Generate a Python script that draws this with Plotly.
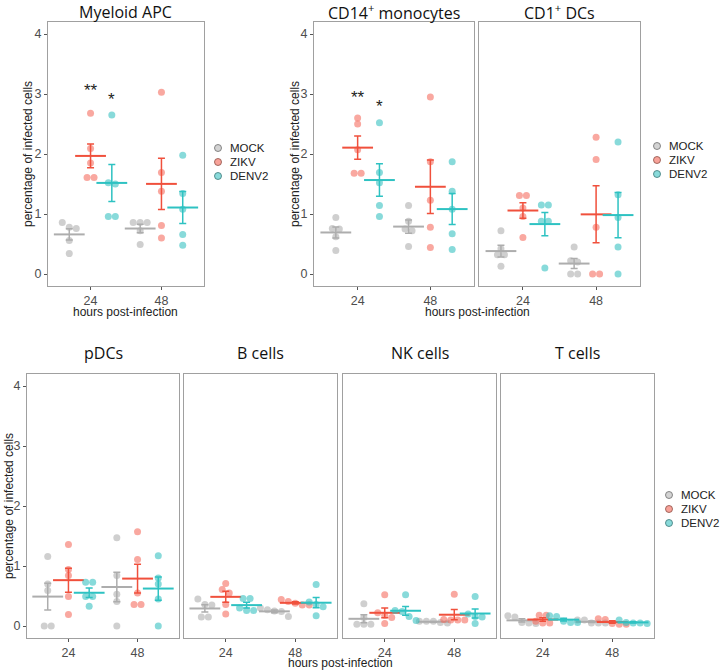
import numpy as np
import plotly.graph_objects as go

W, H = 720, 670

# ---------------- data ----------------
groups = ["MOCK", "ZIKV", "DENV2"]
time_labels = ["24", "48"]
panel_titles = ["Myeloid APC", "CD14<sup>+</sup> monocytes", "CD1<sup>+</sup> DCs",
                "pDCs", "B cells", "NK cells", "T cells"]

# each list: [values at 24 h, values at 48 h]
myeloid_mock = [[0.86, 0.78, 0.76, 0.56, 0.34], [0.86, 0.86, 0.86, 0.72, 0.49]]
myeloid_zikv = [[2.68, 2.09, 1.85, 1.61, 1.61], [3.03, 1.69, 1.38, 0.81, 0.60]]
myeloid_denv2 = [[2.65, 1.52, 1.50, 0.96, 0.96], [1.98, 1.34, 1.08, 0.66, 0.48]]

cd14_mock = [[0.94, 0.76, 0.75, 0.62, 0.39], [1.14, 0.88, 0.75, 0.72, 0.46]]
cd14_zikv = [[2.60, 2.50, 2.07, 1.68, 1.68], [2.95, 1.87, 1.23, 0.78, 0.44]]
cd14_denv2 = [[2.52, 1.69, 1.52, 1.14, 0.96], [1.87, 1.38, 1.08, 0.67, 0.41]]

cd1_mock = [[0.72, 0.42, 0.32, 0.32, 0.13], [0.45, 0.22, 0.20, 0.00, 0.00]]
cd1_zikv = [[1.31, 1.31, 1.10, 0.96, 0.61], [2.28, 1.91, 0.78, 0.00, 0.00]]
cd1_denv2 = [[1.15, 1.15, 0.88, 0.88, 0.10], [2.20, 1.32, 0.94, 0.45, 0.00]]

pdc_mock = [[1.16, 0.70, 0.59, 0.00, 0.00], [1.47, 0.84, 0.53, 0.41, 0.00]]
pdc_zikv = [[1.36, 0.94, 0.84, 0.49, 0.19], [1.57, 1.11, 0.55, 0.36, 0.36]]
pdc_denv2 = [[0.73, 0.73, 0.49, 0.49, 0.33], [1.17, 0.80, 0.70, 0.45, 0.00]]

b_mock = [[0.45, 0.36, 0.35, 0.15, 0.15], [0.30, 0.27, 0.25, 0.24, 0.16]]
b_zikv = [[0.71, 0.61, 0.55, 0.36, 0.20], [0.44, 0.41, 0.38, 0.35, 0.35]]
b_denv2 = [[0.46, 0.46, 0.30, 0.26, 0.26], [0.69, 0.40, 0.36, 0.32, 0.17]]

nk_mock = [[0.37, 0.14, 0.03, 0.03, 0.03], [0.08, 0.08, 0.08, 0.06, 0.05]]
nk_zikv = [[0.52, 0.22, 0.18, 0.14, 0.04], [0.53, 0.11, 0.10, 0.10, 0.10]]
nk_denv2 = [[0.52, 0.26, 0.24, 0.16, 0.09], [0.49, 0.20, 0.16, 0.15, 0.04]]

t_mock = [[0.17, 0.15, 0.06, 0.05, 0.04], [0.10, 0.10, 0.05, 0.05, 0.05]]
t_zikv = [[0.18, 0.18, 0.08, 0.05, 0.05], [0.12, 0.11, 0.04, 0.03, 0.03]]
t_denv2 = [[0.17, 0.16, 0.08, 0.06, 0.06], [0.10, 0.06, 0.05, 0.05, 0.04]]

star_labels = ["**", "*"]
myeloid_star_y = [3.13, 2.98]
cd14_star_y = [3.01, 2.86]

# ---------------- styling ----------------
FONT = "Liberation Sans, Arial, sans-serif"
TFONT = "Open Sans, Noto Sans, sans-serif"
point_colors = ["rgba(175,175,175,0.6)", "rgba(244,105,92,0.58)", "rgba(50,192,192,0.58)"]
line_colors = ["#ADADAD", "#F0503C", "#2EC2C2"]
legend_fill = ["rgba(175,175,175,0.55)", "rgba(242,85,70,0.55)", "rgba(40,188,188,0.55)"]
legend_edge = ["rgba(110,110,110,0.8)", "rgba(140,80,70,0.8)", "rgba(60,120,120,0.8)"]
dodge = [-0.3, 0.0, 0.3]
XR = [0.4, 2.6]
YR = [-0.2, 4.2]
DOT = 7

# panel boxes in page pixels: (x0, x1, y0, y1), show y tick labels
panels = [
    ([myeloid_mock, myeloid_zikv, myeloid_denv2], (48, 204, 22, 286), True),
    ([cd14_mock, cd14_zikv, cd14_denv2], (314, 474, 22, 286), True),
    ([cd1_mock, cd1_zikv, cd1_denv2], (479, 640, 22, 286), False),
    ([pdc_mock, pdc_zikv, pdc_denv2], (27, 179, 374, 638), True),
    ([b_mock, b_zikv, b_denv2], (184, 337, 374, 638), False),
    ([nk_mock, nk_zikv, nk_denv2], (343, 496, 374, 638), False),
    ([t_mock, t_zikv, t_denv2], (501, 654, 374, 638), False),
]


def px(x):
    return x / W


def py(y):
    return 1 - y / H


def swarm(values, ppx, ppy):
    vals = sorted(values, reverse=True)
    clusters = []
    for v in vals:
        if clusters and abs(clusters[-1][-1] - v) * ppy < DOT * 0.8:
            clusters[-1].append(v)
        else:
            clusters.append([v])
    xs, ys = [], []
    for c in clusters:
        n = len(c)
        for i, v in enumerate(c):
            xs.append((i - (n - 1) / 2) * DOT / ppx)
            ys.append(v)
    return xs, ys


fig = go.Figure()
layout = {}
annotations = []
shapes = []

for k, (data, (x0, x1, y0, y1), show_y) in enumerate(panels):
    sfx = "" if k == 0 else str(k + 1)
    xa, ya = "x" + sfx, "y" + sfx
    ppx = (x1 - x0) / (XR[1] - XR[0])
    ppy = (y1 - y0) / (YR[1] - YR[0])
    for g, series in enumerate(data):
        xs, ys = [], []
        means, sems, mx = [], [], []
        for t, vals in enumerate(series):
            ox, oy = swarm(vals, ppx, ppy)
            base = t + 1 + dodge[g]
            xs += [base + o for o in ox]
            ys += oy
            arr = np.array(vals)
            means.append(arr.mean())
            sems.append(arr.std(ddof=1) / np.sqrt(len(arr)))
            mx.append(base)
        fig.add_trace(go.Scatter(
            x=xs, y=ys, mode="markers", xaxis=xa, yaxis=ya, showlegend=False,
            marker=dict(size=DOT, color=point_colors[g], line=dict(width=0)),
            hoverinfo="skip"))
        fig.add_trace(go.Scatter(
            x=mx, y=means, mode="markers", xaxis=xa, yaxis=ya, showlegend=False,
            marker=dict(symbol="line-ew", size=22, color=line_colors[g],
                        line=dict(width=2, color=line_colors[g])),
            error_y=dict(type="data", array=sems, visible=True, width=3.5,
                         thickness=1.5, color=line_colors[g]),
            hoverinfo="skip"))

    layout["xaxis" + sfx] = dict(
        domain=[px(x0), px(x1)], anchor=ya, range=XR, tickvals=[1, 2],
        ticktext=time_labels, showgrid=False, zeroline=False, showline=True,
        mirror=True, linecolor="#A0A0A0", linewidth=1, ticks="outside",
        ticklen=3, tickcolor="#555555", tickwidth=1,
        tickfont=dict(family=FONT, size=12.5, color="#4D4D4D"))
    layout["yaxis" + sfx] = dict(
        domain=[py(y1), py(y0)], anchor=xa, range=YR, tickvals=[0, 1, 2, 3, 4],
        showgrid=False, zeroline=False, showline=True, mirror=True,
        linecolor="#A0A0A0", linewidth=1,
        ticks="outside" if show_y else "", ticklen=3, tickcolor="#555555",
        showticklabels=show_y,
        tickfont=dict(family=FONT, size=12.5, color="#4D4D4D"))

    # panel title
    annotations.append(dict(
        text=panel_titles[k], x=px((x0 + x1) / 2), y=py(12 if y0 < 100 else 353),
        xref="paper", yref="paper", showarrow=False, xanchor="center",
        yanchor="middle", font=dict(family=TFONT, size=16, color="#111111")))

# significance stars
for sfx, ys in [("", myeloid_star_y), ("2", cd14_star_y)]:
    for j, lab in enumerate(star_labels):
        annotations.append(dict(
            text=lab, x=1 + dodge[j + 1], y=ys[j], xref="x" + sfx, yref="y" + sfx,
            showarrow=False, xanchor="center", yanchor="middle", yshift=-4,
            font=dict(family=FONT, size=17, color="#222222")))

# axis titles
ytitle = "percentage of infected cells"
for xpix, ymid in [(28, 154), (295, 154), (9, 506)]:
    annotations.append(dict(
        text=ytitle, x=px(xpix), y=py(ymid), xref="paper", yref="paper",
        showarrow=False, textangle=-90, xanchor="center", yanchor="middle",
        font=dict(family=FONT, size=12, color="#222222")))
xtitle = "hours post-infection"
for xmid, ypix in [(126, 312), (477, 312), (340, 663)]:
    annotations.append(dict(
        text=xtitle, x=px(xmid), y=py(ypix), xref="paper", yref="paper",
        showarrow=False, xanchor="center", yanchor="middle",
        font=dict(family=FONT, size=12, color="#222222")))

# legends (drawn as keys + labels)
for cx, ytop in [(218, 148), (657, 146), (669, 495)]:
    for g, name in enumerate(groups):
        cy = ytop + 14 * g
        shapes.append(dict(
            type="circle", xref="paper", yref="paper", xsizemode="pixel",
            ysizemode="pixel", xanchor=px(cx), yanchor=py(cy),
            x0=-3.5, x1=3.5, y0=-3.5, y1=3.5, fillcolor=legend_fill[g],
            line=dict(color=legend_edge[g], width=1)))
        annotations.append(dict(
            text=name, x=px(cx + 10), y=py(cy), xref="paper", yref="paper",
            showarrow=False, xanchor="left", yanchor="middle",
            font=dict(family=FONT, size=11.5, color="#222222")))

fig.update_layout(
    width=W, height=H, margin=dict(l=0, r=0, t=0, b=0),
    paper_bgcolor="white", plot_bgcolor="white", showlegend=False,
    annotations=annotations, shapes=shapes, **layout)

fig.write_html(
    "out.html",
    config={"displayModeBar": False, "staticPlot": True},
    post_script="document.body.style.margin='0px';document.body.style.overflow='hidden';")
